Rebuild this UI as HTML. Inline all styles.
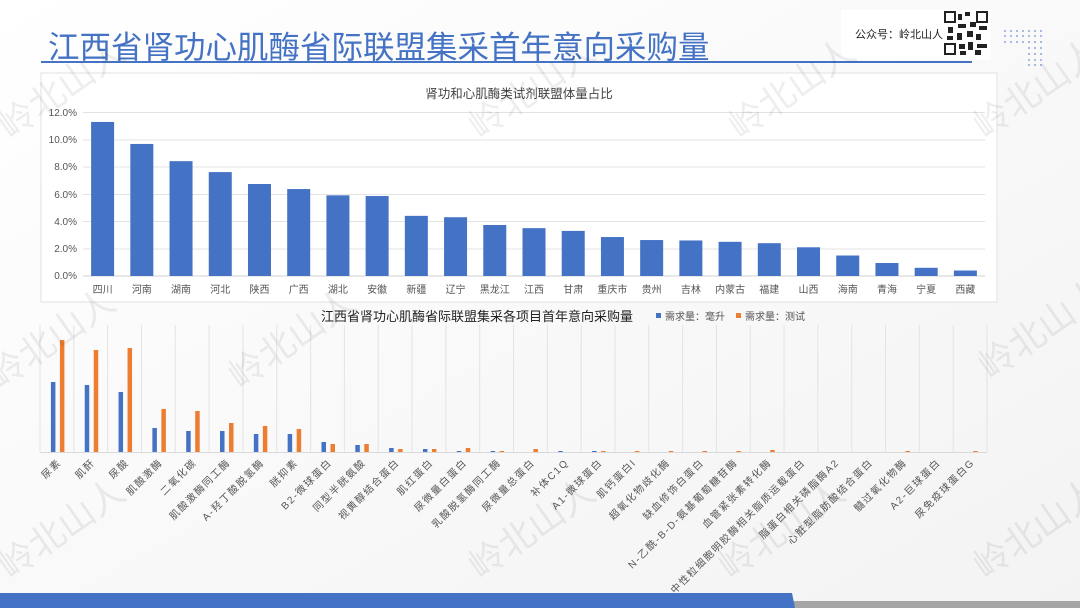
<!DOCTYPE html>
<html><head><meta charset="utf-8"><style>
html,body{margin:0;padding:0;background:#fff}
svg{display:block;font-family:"Liberation Sans","Noto Sans CJK SC",sans-serif}
</style></head><body>
<svg width="1080" height="608" viewBox="0 0 1080 608" xmlns="http://www.w3.org/2000/svg">
<defs><linearGradient id="bg" x1="0" y1="0" x2="1" y2="1"><stop offset="0" stop-color="#ffffff"/><stop offset="1" stop-color="#f3f3f3"/></linearGradient></defs>
<rect width="1080" height="608" fill="url(#bg)"/>
<text x="48" y="58" font-size="31.5" fill="#4472C4">江西省肾功心肌酶省际联盟集采首年意向采购量</text>
<rect x="41" y="61" width="931" height="2" fill="#4472C4"/>
<rect x="841" y="10" width="150" height="50" fill="#fff"/>
<text x="855" y="38" font-size="11" fill="#222">公众号：岭北山人</text>
<g fill="#222">
<rect x="945" y="12" width="43" height="43" fill="#fff"/>
<rect x="945" y="12" width="10" height="10" fill="none" stroke="#222" stroke-width="2"/>
<rect x="977" y="12" width="10" height="10" fill="none" stroke="#222" stroke-width="2"/>
<rect x="945" y="44" width="10" height="10" fill="none" stroke="#222" stroke-width="2"/>
<rect x="958" y="14" width="4" height="6"/><rect x="965" y="12" width="5" height="4"/><rect x="958" y="24" width="8" height="4"/><rect x="948" y="27" width="5" height="6"/><rect x="970" y="22" width="6" height="5"/><rect x="979" y="26" width="8" height="4"/><rect x="957" y="33" width="5" height="7"/><rect x="967" y="31" width="6" height="6"/><rect x="976" y="34" width="5" height="6"/><rect x="947" y="36" width="6" height="4"/><rect x="959" y="44" width="6" height="5"/><rect x="968" y="42" width="5" height="8"/><rect x="977" y="44" width="10" height="4"/><rect x="975" y="50" width="6" height="5"/><rect x="960" y="51" width="6" height="4"/>
</g>
<g fill="#4472C4" opacity="0.6">
<circle cx="1005" cy="31" r="1"/><circle cx="1011" cy="31" r="1"/><circle cx="1017" cy="31" r="1"/><circle cx="1023" cy="31" r="1"/><circle cx="1029" cy="31" r="1"/><circle cx="1035" cy="31" r="1"/><circle cx="1041" cy="31" r="1"/>
<circle cx="1005" cy="36" r="1"/><circle cx="1011" cy="36" r="1"/><circle cx="1017" cy="36" r="1"/><circle cx="1023" cy="36" r="1"/><circle cx="1029" cy="36" r="1"/><circle cx="1035" cy="36" r="1"/><circle cx="1041" cy="36" r="1"/>
<circle cx="1005" cy="42" r="1"/><circle cx="1011" cy="42" r="1"/><circle cx="1017" cy="42" r="1"/><circle cx="1023" cy="42" r="1"/><circle cx="1029" cy="42" r="1"/><circle cx="1035" cy="42" r="1"/><circle cx="1041" cy="42" r="1"/>
<circle cx="1029" cy="48" r="1"/><circle cx="1035" cy="48" r="1"/><circle cx="1041" cy="48" r="1"/><circle cx="1029" cy="54" r="1"/><circle cx="1035" cy="54" r="1"/><circle cx="1041" cy="54" r="1"/><circle cx="1029" cy="60" r="1"/><circle cx="1035" cy="60" r="1"/><circle cx="1041" cy="60" r="1"/><circle cx="1029" cy="65" r="1"/><circle cx="1035" cy="65" r="1"/><circle cx="1041" cy="65" r="1"/>
</g>
<rect x="41" y="73" width="956" height="229" fill="#fff" stroke="#e2e2e2"/>
<text x="519" y="98" font-size="12.5" fill="#444" text-anchor="middle">肾功和心肌酶类试剂联盟体量占比</text>
<g stroke="#e3e3e3" stroke-width="1">
<line x1="83" x2="985" y1="112.5" y2="112.5"/><line x1="83" x2="985" y1="140" y2="140"/><line x1="83" x2="985" y1="167" y2="167"/><line x1="83" x2="985" y1="194.5" y2="194.5"/><line x1="83" x2="985" y1="221.5" y2="221.5"/><line x1="83" x2="985" y1="249" y2="249"/><line x1="83" x2="985" y1="276" y2="276" stroke="#d0d0d0"/>
</g>
<g font-size="10" fill="#555" text-anchor="end">
<text x="77" y="116">12.0%</text><text x="77" y="143">10.0%</text><text x="77" y="170">8.0%</text><text x="77" y="198">6.0%</text><text x="77" y="225">4.0%</text><text x="77" y="252">2.0%</text><text x="77" y="279">0.0%</text>
</g>
<g id="topbars" fill="#4472C4"></g>
<g id="toplabels" font-size="10" fill="#555" text-anchor="middle"></g>
<text x="477" y="321" font-size="13" fill="#222" text-anchor="middle">江西省肾功心肌酶省际联盟集采各项目首年意向采购量</text>
<rect x="656" y="313" width="5" height="5" fill="#4472C4"/><text x="665" y="320" font-size="10" fill="#555">需求量：毫升</text>
<rect x="736" y="313" width="5" height="5" fill="#ED7D31"/><text x="745" y="320" font-size="10" fill="#555">需求量：测试</text>
<g id="bgrid" stroke="#e3e3e3"></g>
<line x1="40" x2="987" y1="452.5" y2="452.5" stroke="#d9d9d9"/>
<g id="bbars"></g>
<g id="blabels" font-size="10" fill="#555" text-anchor="end" letter-spacing="1.6"></g>
<g font-size="36" fill="#000" opacity="0.07">
<text transform="translate(10,140) rotate(-35)">岭北山人</text>
<text transform="translate(480,140) rotate(-35)">岭北山人</text>
<text transform="translate(740,140) rotate(-35)">岭北山人</text>
<text transform="translate(985,140) rotate(-35)">岭北山人</text>
<text transform="translate(0,390) rotate(-35)">岭北山人</text>
<text transform="translate(240,390) rotate(-35)">岭北山人</text>
<text transform="translate(990,380) rotate(-35)">岭北山人</text>
<text transform="translate(10,580) rotate(-35)">岭北山人</text>
<text transform="translate(480,580) rotate(-35)">岭北山人</text>
<text transform="translate(730,580) rotate(-35)">岭北山人</text>
<text transform="translate(985,580) rotate(-35)">岭北山人</text>
</g>
<rect x="780" y="601" width="300" height="7" fill="#a5a5a5"/>
<polygon points="0,593 792,593 795,608 0,608" fill="#4472C4"/>
</svg>
<script>
var NS="http://www.w3.org/2000/svg";
function el(t,a,p,txt){var e=document.createElementNS(NS,t);for(var k in a)e.setAttribute(k,a[k]);if(txt)e.textContent=txt;document.getElementById(p).appendChild(e);}
var tn=["四川","河南","湖南","河北","陕西","广西","湖北","安徽","新疆","辽宁","黑龙江","江西","甘肃","重庆市","贵州","吉林","内蒙古","福建","山西","海南","青海","宁夏","西藏"];
var tv=[11.27,9.66,8.4,7.6,6.73,6.36,5.9,5.85,4.4,4.3,3.73,3.5,3.3,2.85,2.63,2.6,2.5,2.4,2.1,1.5,0.95,0.6,0.4];
var w=(985-83)/23;
for(var i=0;i<23;i++){var cx=83+w*(i+0.5),h=tv[i]*13.67;
el("rect",{x:cx-11.5,y:276-h,width:23,height:h},"topbars");
el("text",{x:cx,y:293},"toplabels",tn[i]);}
var bn=["尿素","肌酐","尿酸","肌酸激酶","二氧化碳","肌酸激酶同工酶","A-羟丁酸脱氢酶","胱抑素","B2-微球蛋白","同型半胱氨酸","视黄醇结合蛋白","肌红蛋白","尿微量白蛋白","乳酸脱氢酶同工酶","尿微量总蛋白","补体C1Q","A1-微球蛋白","肌钙蛋白I","超氧化物歧化酶","缺血修饰白蛋白","N-乙酰-B-D-氨基葡萄糖苷酶","血管紧张素转化酶","中性粒细胞明胶酶相关脂质运载蛋白","脂蛋白相关磷脂酶A2","心脏型脂肪酸结合蛋白","髓过氧化物酶","A2-巨球蛋白","尿免疫球蛋白G"];
var bb=[382,385,392,428,431,431,434,434,442,445,448,449,451,451,452,451,451,452,452,452,452,452,452,452,452,452,452,452];
var bo=[340,350,348,409,411,423,426,429,444,444,449,449,448,451,449,452,451,451,451,451,451,450,452,452,452,451,452,451];
var bw=(987-40)/28;
for(var i=0;i<=28;i++){var x=40+bw*i;el("line",{x1:x,x2:x,y1:325,y2:452},"bgrid");}
for(var i=0;i<28;i++){var cx=40+bw*(i+0.5);
if(452-bb[i]>0.3)el("rect",{x:cx-6,y:bb[i],width:4.5,height:452-bb[i],fill:"#4472C4"},"bbars");
if(452-bo[i]>0.3)el("rect",{x:cx+3,y:bo[i],width:4.5,height:452-bo[i],fill:"#ED7D31"},"bbars");
el("text",{transform:"translate("+(cx+5)+",463) rotate(-45)"},"blabels",bn[i]);}
</script>
</body></html>
